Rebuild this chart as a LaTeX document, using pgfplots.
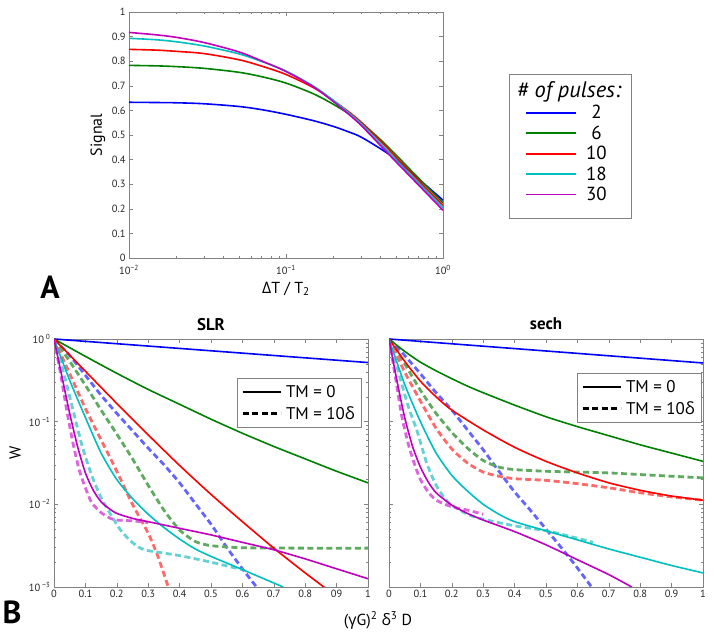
\documentclass[border=0pt]{standalone}
\usepackage{fontspec}
\setmainfont{PT Sans}
\newfontfamily\grk{Open Sans}
\usepackage{pgfplots}
\pgfplotsset{compat=1.18}
\definecolor{mb}{rgb}{0,0,1}
\definecolor{mg}{rgb}{0,0.5,0}
\definecolor{mr}{rgb}{1,0,0}
\definecolor{mc}{rgb}{0,0.75,0.75}
\definecolor{mm}{rgb}{0.75,0,0.75}
\definecolor{db}{RGB}{100,100,255}
\definecolor{dg}{RGB}{95,170,95}
\definecolor{dr}{RGB}{255,105,105}
\definecolor{dc}{RGB}{100,210,210}
\definecolor{dm}{RGB}{220,100,220}
\definecolor{axg}{RGB}{130,130,130}
\pgfplotstableread{
x      b      g      r      c      m
0.01   0.633  0.783  0.848  0.893  0.917
0.015  0.632  0.781  0.845  0.887  0.907
0.02   0.631  0.778  0.840  0.879  0.897
0.03   0.627  0.771  0.831  0.862  0.876
0.05   0.616  0.755  0.806  0.830  0.838
0.07   0.603  0.737  0.780  0.799  0.801
0.1    0.584  0.711  0.746  0.760  0.758
0.15   0.558  0.667  0.692  0.698  0.695
0.2    0.535  0.625  0.640  0.641  0.636
0.25   0.513  0.587  0.595  0.591  0.585
0.3    0.492  0.551  0.553  0.547  0.540
0.4    0.444  0.481  0.475  0.465  0.457
0.5    0.401  0.420  0.411  0.400  0.392
0.7    0.321  0.324  0.314  0.304  0.296
1.0    0.235  0.225  0.214  0.204  0.194
}\sigtable
\pgfplotsset{
  matlab/.style={
    scale only axis,
    axis line style={axg},
    tick align=inside,
    every tick/.style={axg},
    major tick length=4bp,
    minor tick length=2bp,
    tick label style={font=\fontsize{10.5}{12}\selectfont, text=black!85},
    /pgf/number format/assume math mode=true,
    label style={font=\fontsize{16}{18}\selectfont},
  },
  sol/.style={line width=1.6bp, smooth, tension=0.4},
  das/.style={line width=2.8bp, dash pattern=on 6bp off 3.5bp, smooth, tension=0.4},
  logminor/.style={minor ytick={-2.699,-2.523,-2.398,-2.301,-2.222,-2.155,-2.097,-2.046,-1.699,-1.523,-1.398,-1.301,-1.222,-1.155,-1.097,-1.046,-0.699,-0.523,-0.398,-0.301,-0.222,-0.155,-0.097,-0.046}},
  tmleg/.style={legend style={draw=axg, fill=white, at={#1}, anchor=north west,
    font=\fontsize{17}{19}\selectfont, inner xsep=4bp, inner ysep=5bp, row sep=3.5bp},
    legend cell align=left,
    legend image code/.code={\draw[##1] (8bp,0bp) -- (46bp,0bp);}},
}
\begin{document}
\begin{tikzpicture}
\path[use as bounding box] (0bp,0bp) rectangle (714bp,638bp);
% ---------------- Panel A ----------------
\begin{axis}[matlab,
  at={(129bp,380bp)}, anchor=south west, width=314bp, height=246bp,
  xmode=log, xmin=0.01, xmax=1, ymin=0, ymax=1,
  xtick={0.01,0.1,1},
  xticklabels={10\textsuperscript{−2},10\textsuperscript{−1},10\textsuperscript{0}},
  xticklabel style={yshift=-4bp},
  ytick={0,0.1,0.2,0.3,0.4,0.5,0.6,0.7,0.8,0.9,1},
  yticklabels={0,0.1,0.2,0.3,0.4,0.5,0.6,0.7,0.8,0.9,1},
  ylabel={Signal},
  ylabel style={at={(axis description cs:-0.099,0.5)}, anchor=center},
  xlabel={{\grk Δ}T / T\textsubscript{2}},
  xlabel style={at={(axis description cs:0.5,-0.125)}, anchor=center},
  legend style={draw=none, fill=none, at={(axis description cs:1.262,0.63)}, anchor=north west,
    font=\fontsize{19}{20}\selectfont, row sep=1.5bp, inner sep=0bp},
  legend cell align=center,
  legend image code/.code={\draw[#1, line width=1.8bp] (0bp,0bp) -- (50bp,0bp); \path (57bp,0bp);},
]
\addplot[mb, line width=1.6bp, smooth] table[x=x,y=b]{\sigtable}; \addlegendentry{2}
\addplot[mg, line width=1.6bp, smooth] table[x=x,y=g]{\sigtable}; \addlegendentry{6}
\addplot[mr, line width=1.6bp, smooth] table[x=x,y=r]{\sigtable}; \addlegendentry{10}
\addplot[mc, line width=1.6bp, smooth] table[x=x,y=c]{\sigtable}; \addlegendentry{18}
\addplot[mm, line width=1.6bp, smooth] table[x=x,y=m]{\sigtable}; \addlegendentry{30}
\end{axis}
\draw[axg, line width=0.8bp] (509bp,564bp) rectangle (631bp,420bp);
\node[font=\fontsize{22.5}{24}\selectfont\itshape] at (569bp,546bp) {\# of pulses:};
\node[font=\fontsize{32}{34}\selectfont\bfseries] at (50bp,351bp) {A};
\node[font=\fontsize{32}{34}\selectfont\bfseries] at (12bp,26bp) {B};
% ---------------- Panel B left (SLR) ----------------
\begin{axis}[matlab, logminor, tmleg={(axis description cs:0.583,0.843)},
  at={(54bp,51bp)}, anchor=south west, width=314bp, height=248bp,
  xmin=0, xmax=1, ymin=-3, ymax=0,
  xtick={0,0.1,0.2,0.3,0.4,0.5,0.6,0.7,0.8,0.9,1},
  xticklabels={0,0.1,0.2,0.3,0.4,0.5,0.6,0.7,0.8,09,1},
  ytick={-3,-2,-1,0},
  yticklabels={10\textsuperscript{ −3},10\textsuperscript{ −2},10\textsuperscript{ −1},10\textsuperscript{ 0}},
  title={\bfseries SLR},
  title style={at={(axis description cs:0.5,1.036)}, anchor=center, font=\fontsize{17}{19}\selectfont},
  ylabel={W},
  ylabel style={at={(axis description cs:-0.124,0.54)}, anchor=center},
  xlabel={({\grk γ}G)\textsuperscript{2} {\grk δ}\textsuperscript{3} D},
  xlabel style={at={(axis description cs:1.032,-0.135)}, anchor=center},
]
\addlegendimage{black, line width=1.6bp}
\addlegendentry{\hspace*{2bp}TM = 0}
\addlegendimage{black, line width=2.8bp, dash pattern=on 6bp off 3.5bp}
\addlegendentry{\hspace*{2bp}TM = 10{\grk δ}}
% dashed (TM = 10 delta)
\addplot[db, das, forget plot] coordinates {(0,0)(0.05,-0.2)(0.1,-0.44)(0.15,-0.68)(0.2,-0.90)(0.25,-1.11)(0.3,-1.32)(0.35,-1.52)(0.4,-1.74)(0.45,-1.99)(0.5,-2.24)(0.55,-2.52)(0.6,-2.78)(0.645,-3.0)};
\addplot[dg, das, forget plot] coordinates {(0,0)(0.05,-0.27)(0.1,-0.56)(0.15,-0.86)(0.2,-1.15)(0.25,-1.45)(0.3,-1.77)(0.35,-2.07)(0.4,-2.31)(0.45,-2.45)(0.5,-2.50)(0.6,-2.525)(0.8,-2.53)(1,-2.53)};
\addplot[dr, das, forget plot] coordinates {(0,0)(0.05,-0.42)(0.1,-0.84)(0.15,-1.22)(0.2,-1.60)(0.25,-2.0)(0.3,-2.35)(0.33,-2.62)(0.364,-3.0)};
\addplot[dc, das, forget plot] coordinates {(0,0)(0.03,-0.4)(0.06,-0.85)(0.09,-1.3)(0.12,-1.65)(0.15,-1.92)(0.18,-2.12)(0.21,-2.3)(0.24,-2.43)(0.27,-2.52)(0.3,-2.56)(0.4,-2.62)(0.5,-2.70)(0.6,-2.79)};
\addplot[dm, das, forget plot] coordinates {(0,0)(0.02,-0.4)(0.04,-0.85)(0.06,-1.25)(0.08,-1.58)(0.1,-1.80)(0.12,-1.98)(0.15,-2.10)(0.18,-2.17)(0.2,-2.19)(0.25,-2.2)(0.3,-2.22)};
% solid (TM = 0)
\addplot[mb, sol, forget plot] coordinates {(0,0)(1,-0.285)};
\addplot[mg, sol, forget plot] coordinates {(0,0)(0.1,-0.21)(0.2,-0.415)(0.3,-0.61)(0.4,-0.79)(0.5,-0.97)(0.6,-1.14)(0.7,-1.30)(0.8,-1.45)(0.9,-1.60)(1,-1.74)};
\addplot[mr, sol, forget plot] coordinates {(0,0)(0.1,-0.39)(0.2,-0.78)(0.3,-1.16)(0.4,-1.53)(0.5,-1.88)(0.6,-2.21)(0.7,-2.53)(0.8,-2.83)(0.87,-3.03)};
\addplot[mc, sol, forget plot] coordinates {(0,0)(0.05,-0.5)(0.1,-0.95)(0.15,-1.38)(0.2,-1.70)(0.25,-1.93)(0.3,-2.12)(0.35,-2.28)(0.4,-2.42)(0.45,-2.54)(0.5,-2.63)(0.6,-2.79)(0.73,-3.0)};
\addplot[mm, sol, forget plot] coordinates {(0,0)(0.025,-0.45)(0.05,-0.90)(0.075,-1.30)(0.1,-1.62)(0.125,-1.83)(0.15,-1.97)(0.175,-2.05)(0.2,-2.11)(0.25,-2.17)(0.3,-2.21)(0.4,-2.29)(0.5,-2.37)(0.6,-2.46)(0.7,-2.55)(0.8,-2.66)(0.9,-2.78)(1,-2.90)};
\end{axis}
% ---------------- Panel B right (sech) ----------------
\begin{axis}[matlab, logminor, tmleg={(axis description cs:0.599,0.863)},
  at={(389bp,51bp)}, anchor=south west, width=314bp, height=248bp,
  xmin=0, xmax=1, ymin=-3, ymax=0,
  xtick={0,0.1,0.2,0.3,0.4,0.5,0.6,0.7,0.8,0.9,1},
  xticklabels={0,0.1,0.2,0.3,0.4,0.5,0.6,0.7,0.8,0.9,1},
  ytick={-3,-2,-1,0},
  yticklabels={},
  title={\bfseries sech},
  title style={at={(axis description cs:0.5,1.036)}, anchor=center, font=\fontsize{17}{19}\selectfont},
]
\addlegendimage{black, line width=1.6bp}
\addlegendentry{\hspace*{2bp}TM = 0}
\addlegendimage{black, line width=2.8bp, dash pattern=on 6bp off 3.5bp}
\addlegendentry{\hspace*{2bp}TM = 10{\grk δ}}
\addplot[db, das, forget plot] coordinates {(0,0)(0.05,-0.2)(0.1,-0.42)(0.15,-0.65)(0.2,-0.86)(0.25,-1.1)(0.3,-1.34)(0.35,-1.6)(0.4,-1.85)(0.45,-2.07)(0.5,-2.3)(0.55,-2.53)(0.6,-2.77)(0.645,-3.0)};
\addplot[dg, das, forget plot] coordinates {(0,0)(0.05,-0.3)(0.1,-0.62)(0.15,-0.9)(0.2,-1.13)(0.25,-1.32)(0.3,-1.47)(0.35,-1.55)(0.4,-1.58)(0.5,-1.60)(0.6,-1.61)(0.7,-1.62)(0.8,-1.64)(0.9,-1.66)(1,-1.68)};
\addplot[dr, das, forget plot] coordinates {(0,0)(0.05,-0.4)(0.1,-0.75)(0.15,-1.08)(0.2,-1.33)(0.25,-1.5)(0.3,-1.61)(0.35,-1.66)(0.4,-1.69)(0.5,-1.71)(0.6,-1.75)(0.7,-1.80)(0.8,-1.86)(0.9,-1.91)(1,-1.95)};
\addplot[dc, das, forget plot] coordinates {(0,0)(0.03,-0.4)(0.06,-0.8)(0.09,-1.12)(0.12,-1.5)(0.15,-1.77)(0.18,-1.94)(0.2,-2.01)(0.25,-2.12)(0.3,-2.18)(0.4,-2.26)(0.5,-2.32)(0.6,-2.41)(0.65,-2.46)};
\addplot[dm, das, forget plot] coordinates {(0,0)(0.02,-0.45)(0.04,-0.92)(0.06,-1.25)(0.08,-1.5)(0.1,-1.7)(0.125,-1.85)(0.15,-1.95)(0.2,-2.03)(0.25,-2.07)(0.3,-2.12)};
\addplot[mb, sol, forget plot] coordinates {(0,0)(1,-0.29)};
\addplot[mg, sol, forget plot] coordinates {(0,0)(0.05,-0.15)(0.1,-0.28)(0.15,-0.385)(0.2,-0.48)(0.25,-0.57)(0.3,-0.65)(0.4,-0.80)(0.5,-0.94)(0.6,-1.06)(0.7,-1.17)(0.8,-1.28)(0.9,-1.38)(1,-1.48)};
\addplot[mr, sol, forget plot] coordinates {(0,0)(0.05,-0.27)(0.1,-0.51)(0.15,-0.70)(0.2,-0.86)(0.3,-1.10)(0.4,-1.31)(0.5,-1.48)(0.6,-1.62)(0.7,-1.74)(0.8,-1.83)(0.9,-1.90)(1,-1.95)};
\addplot[mc, sol, forget plot] coordinates {(0,0)(0.05,-0.55)(0.1,-1.0)(0.15,-1.38)(0.2,-1.65)(0.25,-1.84)(0.3,-2.0)(0.35,-2.12)(0.4,-2.21)(0.5,-2.32)(0.6,-2.43)(0.7,-2.54)(0.8,-2.64)(0.9,-2.74)(1,-2.83)};
\addplot[mm, sol, forget plot] coordinates {(0,0)(0.025,-0.5)(0.05,-0.95)(0.075,-1.3)(0.1,-1.55)(0.125,-1.73)(0.15,-1.86)(0.2,-2.01)(0.25,-2.11)(0.3,-2.19)(0.4,-2.33)(0.5,-2.49)(0.6,-2.67)(0.7,-2.85)(0.773,-3.0)};
\end{axis}
\end{tikzpicture}
\end{document}
